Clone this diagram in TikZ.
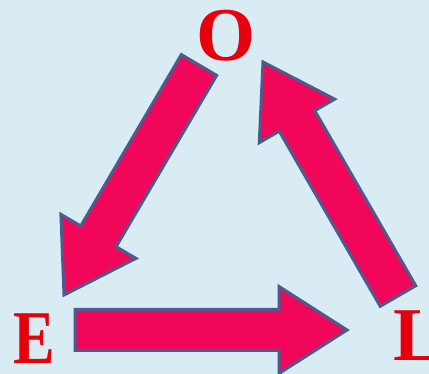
\documentclass[tikz,border=0pt]{standalone}
\usepackage{fontspec}
\setmainfont{Liberation Serif}
\usetikzlibrary{calc}

\definecolor{skyback}{HTML}{DAECF3}
\definecolor{cyclefill}{HTML}{F2065A}
\definecolor{cycleedge}{HTML}{4B5B8C}
\definecolor{letterred}{HTML}{E6000C}

\newcommand{\cyclearrow}[2]{%
  \coordinate (hb) at ($(#2)!68pt!(#1)$);
  \draw[bigarrow] ($(#1)!20.5pt!90:(#2)$) -- ($(hb)!20.5pt!90:(#2)$)
    -- ($(hb)!43.5pt!90:(#2)$) -- (#2) -- ($(hb)!43.5pt!-90:(#2)$)
    -- ($(hb)!20.5pt!-90:(#2)$) -- ($(#1)!20.5pt!-90:(#2)$) -- cycle;}

\begin{document}
\begin{tikzpicture}[
        x=1pt, y=-1pt,
        letter/.style={font=\fontsize{76}{80}\selectfont\bfseries,
            text=letterred, inner sep=0pt},
        bigarrow/.style={fill=cyclefill, draw=cycleedge, line width=3pt,
            line join=miter}
      ]
      \useasboundingbox (0,0) rectangle (429,374);
      \fill[skyback] (0,0) rectangle (429,374);
      \clip (0,0) rectangle (429,374);

      \node[letter, anchor=base] (o) at (226,61) {O};
      \node[letter, anchor=base, xscale=0.82] (e) at (34,364) {E};
      \node[letter, anchor=base west] (l) at (393,361) {L};

      \coordinate (oe-tail) at (199,65);
      \coordinate (oe-tip)  at (64,295);
      \coordinate (el-tail) at (75,330);
      \coordinate (el-tip)  at (347,330);
      \coordinate (lo-tail) at (398,296);
      \coordinate (lo-tip)  at (263,62);

      \cyclearrow{oe-tail}{oe-tip}
      \cyclearrow{el-tail}{el-tip}
      \cyclearrow{lo-tail}{lo-tip}
    \end{tikzpicture}
\end{document}
